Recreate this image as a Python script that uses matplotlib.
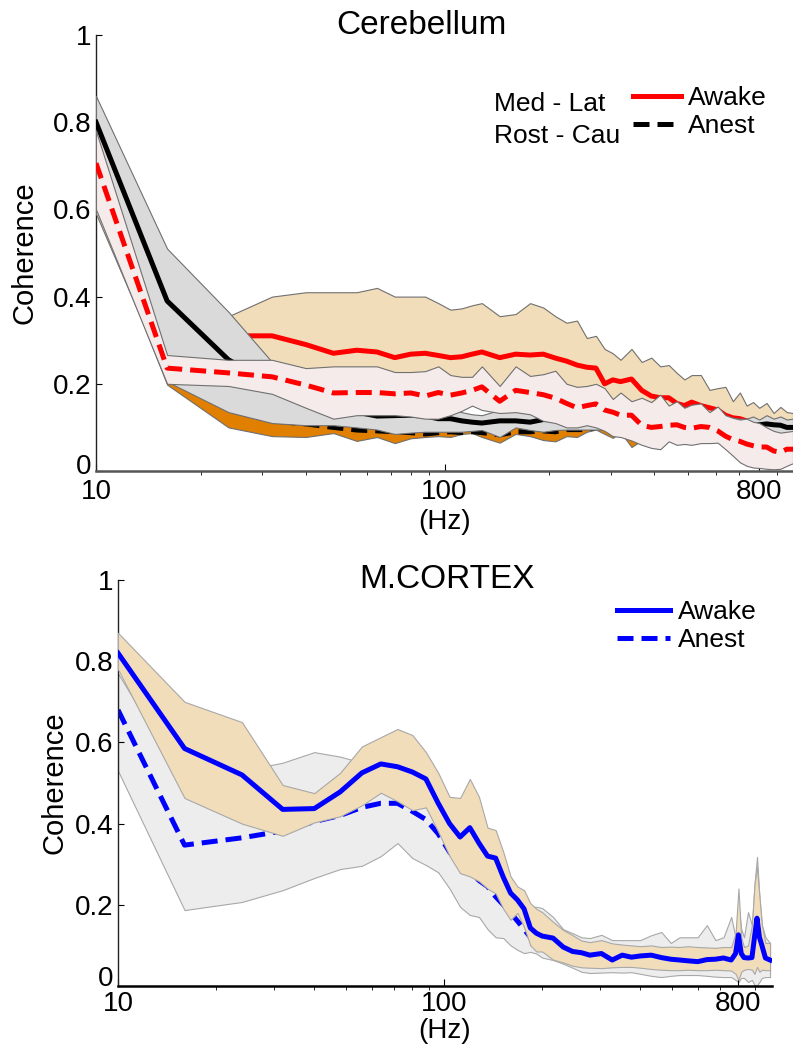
import matplotlib
matplotlib.use("Agg")
import matplotlib.pyplot as plt
from matplotlib.lines import Line2D
from matplotlib.ticker import FixedLocator, NullFormatter
from matplotlib.transforms import ScaledTranslation

plt.rcParams["font.family"] = ["Liberation Sans", "DejaVu Sans"]

# ---- Cerebellum (Med-Lat = red, Rost-Cau = black; solid awake, dashed anest)
cb_freq = [10, 16, 24, 32, 40, 48, 56, 64, 72, 80,
           88, 96, 104, 112, 120, 128, 144, 160, 176, 192,
           208, 224, 240, 256, 272, 288, 304, 320, 344, 368,
           392, 416, 440, 464, 488, 512, 544, 576, 608, 640,
           672, 704, 736, 768, 800, 840, 880, 920, 960, 1000]

ml_awake = [0.70, 0.33, 0.31, 0.31, 0.29, 0.27, 0.277, 0.273, 0.26, 0.268,
            0.27, 0.265, 0.26, 0.262, 0.268, 0.273, 0.26, 0.268, 0.266, 0.268,
            0.259, 0.252, 0.243, 0.238, 0.236, 0.20, 0.209, 0.205, 0.211, 0.185,
            0.172, 0.168, 0.168, 0.155, 0.15, 0.158, 0.15, 0.145, 0.14, 0.128,
            0.122, 0.12, 0.115, 0.11, 0.108, 0.104, 0.10, 0.098, 0.095, 0.094]
ml_awake_hi = [0.80, 0.45, 0.355, 0.40, 0.41, 0.41, 0.41, 0.42, 0.40, 0.40,
               0.40, 0.385, 0.37, 0.373, 0.38, 0.385, 0.355, 0.36, 0.385, 0.375,
               0.355, 0.34, 0.345, 0.305, 0.31, 0.28, 0.27, 0.255, 0.28, 0.25,
               0.26, 0.24, 0.243, 0.225, 0.21, 0.22, 0.22, 0.186, 0.19, 0.193,
               0.16, 0.18, 0.15, 0.158, 0.145, 0.156, 0.133, 0.147, 0.135, 0.133]
ml_awake_lo = [0.59, 0.21, 0.205, 0.20, 0.19, 0.19, 0.19, 0.19, 0.185, 0.185,
               0.185, 0.185, 0.18, 0.18, 0.18, 0.185, 0.185, 0.18, 0.18, 0.175,
               0.17, 0.165, 0.16, 0.155, 0.15, 0.15, 0.145, 0.14, 0.14, 0.13,
               0.125, 0.125, 0.12, 0.115, 0.11, 0.11, 0.105, 0.10, 0.10, 0.095,
               0.09, 0.09, 0.085, 0.085, 0.08, 0.08, 0.078, 0.075, 0.075, 0.075]

ml_anest = [0.706, 0.236, 0.225, 0.216, 0.197, 0.179, 0.18, 0.18, 0.177, 0.179,
            0.172, 0.18, 0.174, 0.179, 0.185, 0.193, 0.16, 0.185, 0.18, 0.175,
            0.167, 0.155, 0.145, 0.15, 0.154, 0.14, 0.135, 0.128, 0.128, 0.105,
            0.10, 0.102, 0.105, 0.106, 0.10, 0.098, 0.102, 0.10, 0.092, 0.08,
            0.072, 0.068, 0.062, 0.058, 0.055, 0.055, 0.046, 0.043, 0.05, 0.05]
ml_anest_hi = [0.78, 0.266, 0.255, 0.255, 0.236, 0.24, 0.24, 0.24, 0.227, 0.227,
               0.229, 0.24, 0.22, 0.216, 0.216, 0.24, 0.195, 0.24, 0.218, 0.222,
               0.23, 0.20, 0.193, 0.195, 0.20, 0.19, 0.165, 0.18, 0.16, 0.168,
               0.158, 0.175, 0.15, 0.16, 0.145, 0.152, 0.155, 0.135, 0.148, 0.128,
               0.122, 0.118, 0.12, 0.113, 0.11, 0.10, 0.092, 0.088, 0.09, 0.092]
ml_anest_lo = [0.60, 0.20, 0.195, 0.177, 0.145, 0.12, 0.128, 0.128, 0.128, 0.125,
               0.12, 0.12, 0.128, 0.138, 0.15, 0.14, 0.133, 0.135, 0.13, 0.115,
               0.11, 0.10, 0.10, 0.105, 0.10, 0.092, 0.08, 0.078, 0.07, 0.06,
               0.053, 0.05, 0.068, 0.06, 0.062, 0.06, 0.064, 0.064, 0.065, 0.05,
               0.035, 0.02, 0.012, 0.008, 0.007, 0.005, 0.004, 0.005, 0.012, 0.018]

rc_awake = [0.80, 0.39, 0.255, 0.20, 0.17, 0.15, 0.135, 0.126, 0.127, 0.128,
            0.126, 0.12, 0.12, 0.115, 0.112, 0.11, 0.115, 0.115, 0.112, 0.118,
            0.118, 0.115, 0.113, 0.11, 0.11, 0.108, 0.108, 0.106, 0.106, 0.105,
            0.105, 0.104, 0.104, 0.103, 0.103, 0.102, 0.102, 0.102, 0.104, 0.103,
            0.104, 0.105, 0.105, 0.104, 0.106, 0.108, 0.106, 0.105, 0.10, 0.10]
rc_awake_hi = [0.86, 0.51, 0.365, 0.25, 0.20, 0.17, 0.16, 0.15, 0.15, 0.145,
               0.145, 0.14, 0.14, 0.135, 0.13, 0.128, 0.14, 0.14, 0.135, 0.14,
               0.14, 0.135, 0.135, 0.13, 0.13, 0.13, 0.13, 0.13, 0.13, 0.13,
               0.13, 0.13, 0.128, 0.128, 0.128, 0.125, 0.125, 0.125, 0.125, 0.122,
               0.122, 0.12, 0.12, 0.125, 0.118, 0.128, 0.12, 0.125, 0.118, 0.12]
rc_awake_lo = [0.62, 0.205, 0.135, 0.11, 0.105, 0.105, 0.10, 0.095, 0.085, 0.088,
               0.09, 0.09, 0.09, 0.09, 0.092, 0.094, 0.078, 0.10, 0.094, 0.09,
               0.094, 0.095, 0.095, 0.095, 0.095, 0.095, 0.095, 0.095, 0.095, 0.095,
               0.095, 0.092, 0.092, 0.09, 0.09, 0.09, 0.088, 0.088, 0.088, 0.085,
               0.085, 0.085, 0.085, 0.08, 0.082, 0.085, 0.08, 0.085, 0.08, 0.085]

rc_anest = [0.68, 0.22, 0.14, 0.115, 0.108, 0.10, 0.094, 0.092, 0.09, 0.088,
            0.085, 0.088, 0.09, 0.088, 0.09, 0.088, 0.083, 0.09, 0.09, 0.092,
            0.09, 0.095, 0.095, 0.095, 0.10, 0.10, 0.10, 0.10, 0.098, 0.10,
            0.10, 0.10, 0.10, 0.10, 0.10, 0.10, 0.10, 0.10, 0.10, 0.10,
            0.10, 0.10, 0.102, 0.098, 0.104, 0.10, 0.102, 0.098, 0.10, 0.098]
rc_anest_hi = [0.75, 0.30, 0.20, 0.15, 0.13, 0.125, 0.12, 0.118, 0.115, 0.115,
               0.112, 0.115, 0.115, 0.112, 0.115, 0.112, 0.11, 0.115, 0.115, 0.118,
               0.115, 0.118, 0.12, 0.118, 0.12, 0.118, 0.12, 0.118, 0.12, 0.118,
               0.12, 0.118, 0.12, 0.118, 0.12, 0.118, 0.12, 0.118, 0.12, 0.118,
               0.12, 0.118, 0.12, 0.118, 0.12, 0.118, 0.12, 0.118, 0.12, 0.118]
rc_anest_lo = [0.61, 0.198, 0.10, 0.08, 0.078, 0.087, 0.069, 0.078, 0.064, 0.075,
               0.078, 0.08, 0.078, 0.085, 0.087, 0.078, 0.065, 0.085, 0.08, 0.071,
               0.068, 0.08, 0.078, 0.09, 0.095, 0.085, 0.076, 0.089, 0.055, 0.07,
               0.055, 0.07, 0.075, 0.075, 0.078, 0.075, 0.078, 0.075, 0.078, 0.075,
               0.078, 0.075, 0.078, 0.075, 0.078, 0.075, 0.078, 0.075, 0.078, 0.075]

# ---- Motor cortex (blue; solid awake, dashed anest)
mc_freq = [10, 16, 24, 32, 40, 48, 56, 64, 72, 80,
           88, 96, 104, 112, 120, 128, 136, 144, 152, 160,
           168, 176, 184, 192, 200, 216, 232, 248, 264, 280,
           304, 328, 352, 376, 400, 432, 464, 496, 528, 560,
           600, 640, 680, 720, 760, 784, 800, 816, 832, 856,
           880, 896, 912, 928, 944, 968, 1000]

mc_awake = [0.82, 0.585, 0.52, 0.435, 0.437, 0.478, 0.525, 0.547, 0.54, 0.527,
            0.51, 0.45, 0.40, 0.367, 0.39, 0.352, 0.32, 0.315, 0.268, 0.229,
            0.212, 0.19, 0.143, 0.13, 0.123, 0.118, 0.096, 0.085, 0.082, 0.076,
            0.08, 0.064, 0.076, 0.071, 0.074, 0.076, 0.07, 0.066, 0.064, 0.062,
            0.06, 0.065, 0.066, 0.069, 0.064, 0.08, 0.126, 0.08, 0.07, 0.069,
            0.07, 0.12, 0.167, 0.12, 0.10, 0.069, 0.064]
mc_awake_hi = [0.87, 0.70, 0.65, 0.495, 0.475, 0.525, 0.59, 0.613, 0.633, 0.618,
               0.576, 0.525, 0.466, 0.463, 0.51, 0.466, 0.39, 0.384, 0.33, 0.27,
               0.245, 0.236, 0.204, 0.19, 0.182, 0.158, 0.138, 0.125, 0.112, 0.108,
               0.113, 0.105, 0.102, 0.10, 0.098, 0.10, 0.096, 0.097, 0.096, 0.098,
               0.096, 0.095, 0.094, 0.096, 0.096, 0.13, 0.24, 0.12, 0.096, 0.10,
               0.15, 0.25, 0.293, 0.219, 0.15, 0.106, 0.106]
mc_awake_lo = [0.78, 0.463, 0.40, 0.37, 0.403, 0.418, 0.445, 0.476, 0.455, 0.433,
               0.44, 0.38, 0.32, 0.278, 0.27, 0.258, 0.24, 0.228, 0.19, 0.163,
               0.18, 0.145, 0.10, 0.085, 0.085, 0.065, 0.058, 0.05, 0.046, 0.045,
               0.044, 0.046, 0.047, 0.047, 0.045, 0.042, 0.04, 0.039, 0.039, 0.04,
               0.039, 0.039, 0.04, 0.039, 0.038, 0.03, 0.015, 0.035, 0.04, 0.042,
               0.04, 0.03, 0.047, 0.035, 0.04, 0.039, 0.039]

mc_anest = [0.68, 0.347, 0.365, 0.382, 0.405, 0.42, 0.44, 0.45, 0.45, 0.43,
            0.41, 0.375, 0.33, 0.30, 0.28, 0.26, 0.245, 0.22, 0.20, 0.18,
            0.16, 0.14, 0.12, 0.11, 0.10, 0.09, 0.085, 0.08, 0.075, 0.072,
            0.07, 0.07, 0.068, 0.07, 0.07, 0.068, 0.07, 0.068, 0.068, 0.07,
            0.068, 0.07, 0.068, 0.07, 0.07, 0.072, 0.085, 0.075, 0.07, 0.07,
            0.072, 0.08, 0.09, 0.08, 0.072, 0.07, 0.068]
mc_anest_hi = [0.77, 0.50, 0.53, 0.55, 0.576, 0.565, 0.55, 0.50, 0.50, 0.48,
               0.46, 0.43, 0.40, 0.36, 0.33, 0.30, 0.28, 0.26, 0.24, 0.22,
               0.20, 0.20, 0.195, 0.195, 0.192, 0.17, 0.14, 0.13, 0.12, 0.118,
               0.126, 0.113, 0.113, 0.113, 0.113, 0.125, 0.133, 0.106, 0.12, 0.12,
               0.12, 0.15, 0.113, 0.12, 0.17, 0.12, 0.20, 0.14, 0.12, 0.182,
               0.15, 0.25, 0.318, 0.219, 0.15, 0.12, 0.106]
mc_anest_lo = [0.53, 0.187, 0.207, 0.236, 0.266, 0.288, 0.296, 0.32, 0.352, 0.315,
               0.298, 0.28, 0.24, 0.195, 0.175, 0.17, 0.14, 0.12, 0.118, 0.10,
               0.089, 0.081, 0.084, 0.08, 0.07, 0.064, 0.055, 0.045, 0.035, 0.032,
               0.033, 0.034, 0.033, 0.034, 0.03, 0.025, 0.022, 0.025, 0.027, 0.027,
               0.027, 0.025, 0.023, 0.022, 0.022, 0.015, 0.01, 0.02, 0.02, 0.01,
               0.015, 0.002, 0.002, 0.01, 0.02, 0.022, 0.022]

x_major = [10, 100, 800]
x_minor = [20, 30, 40, 50, 60, 70, 80, 90, 200, 300, 400, 500, 600, 700, 900]
y_ticks = [0, 0.2, 0.4, 0.6, 0.8, 1]
y_labels = ["0", "0.2", "0.4", "0.6", "0.8", "1"]

TAN, PINK, GREY, ORANGE, LIGHTGREY = "#F2DDBA", "#F5EBEB", "#DADADA", "#E07F00", "#EDEDED"
LW = 3.6
DASH = (0, (3.2, 1.6))


def trace(ax, f, mid, lo, hi, face, edge, color, ls, z):
    # band first, then its mean line; later groups sit on top of earlier ones
    ax.fill_between(f, lo, hi, facecolor=face, edgecolor=edge, linewidth=0.8, zorder=z)
    ax.plot(f, mid, color=color, linestyle=ls, linewidth=LW, zorder=z + 0.5)


def style(ax, xmax, bottom_color, xpad, ylab_x, xlab_y, zero_lift):
    ax.set_xscale("log")
    ax.set_xlim(10, xmax)
    ax.set_ylim(0, 1)
    for s in ("top", "right"):
        ax.spines[s].set_visible(False)
    ax.spines["left"].set_linewidth(1.0)
    ax.spines["left"].set_color("#222222")
    ax.spines["bottom"].set_linewidth(1.8)
    ax.spines["bottom"].set_color(bottom_color)
    ax.xaxis.set_major_locator(FixedLocator(x_major))
    ax.set_xticklabels([str(v) for v in x_major])
    ax.xaxis.set_minor_locator(FixedLocator(x_minor))
    ax.xaxis.set_minor_formatter(NullFormatter())
    ax.set_yticks(y_ticks)
    ax.set_yticklabels(y_labels)
    ax.tick_params(direction="in", labelsize=20, width=0.8)
    ax.tick_params(axis="x", which="major", length=5, pad=xpad)
    ax.tick_params(axis="x", which="minor", length=3)
    ax.tick_params(axis="y", length=4, pad=3.5)
    ax.set_ylabel("Coherence", fontsize=21)
    ax.yaxis.set_label_coords(ylab_x, 0.5)
    ax.set_xlabel("(Hz)", fontsize=20)
    ax.xaxis.set_label_coords(0.5, xlab_y)
    # lift the "0" label a little so it clears the "10" below it
    zero = ax.get_yticklabels()[0]
    zero.set_transform(zero.get_transform() + ScaledTranslation(0, zero_lift / 72, fig.dpi_scale_trans))


W, H = 793, 1044
fig = plt.figure(figsize=(W / 100, H / 100), dpi=100)

# top panel: cerebellum
ax1 = fig.add_axes([96 / W, 1 - 471 / H, (W - 96) / W, 436 / H])
trace(ax1, cb_freq, rc_anest, rc_anest_lo, rc_anest_hi, ORANGE, "#707070", "black", DASH, 1)
trace(ax1, cb_freq, ml_awake, ml_awake_lo, ml_awake_hi, TAN, "#707070", "red", "-", 3)
trace(ax1, cb_freq, rc_awake, rc_awake_lo, rc_awake_hi, GREY, "#707070", "black", "-", 5)
trace(ax1, cb_freq, ml_anest, ml_anest_lo, ml_anest_hi, PINK, "#707070", "red", DASH, 7)
style(ax1, 1000, "#555555", 6, -0.083, -0.088, 5)
fig.text(421 / W, 1 - 25 / H, "Cerebellum", fontsize=24, ha="center", va="center")

handles = [Line2D([], [], color="red", lw=LW),
           Line2D([], [], color="black", lw=LW, linestyle=DASH)]
fig.legend(handles, ["Awake", "Anest"], loc="upper left",
           bbox_to_anchor=(633 / W, 1 - 86 / H), frameon=False, fontsize=19,
           handlelength=1.8, handletextpad=0.3, labelspacing=0.15,
           borderpad=0, borderaxespad=0)
fig.text(494 / W, 1 - 104 / H, "Med - Lat", fontsize=19, ha="left", va="center")
fig.text(494 / W, 1 - 136 / H, "Rost - Cau", fontsize=19, ha="left", va="center")

# bottom panel: motor cortex
ax2 = fig.add_axes([118 / W, 1 - 986 / H, 654 / W, 406 / H])
trace(ax2, mc_freq, mc_anest, mc_anest_lo, mc_anest_hi, LIGHTGREY, "#A8A8A8", "blue", DASH, 1)
trace(ax2, mc_freq, mc_awake, mc_awake_lo, mc_awake_hi, TAN, "#A8A8A8", "blue", "-", 3)
style(ax2, 1014, "black", 3.5, -0.076, -0.078, 7)
fig.text(447 / W, 1 - 580 / H, "M.CORTEX", fontsize=24, ha="center", va="center")

handles = [Line2D([], [], color="blue", lw=LW),
           Line2D([], [], color="blue", lw=LW, linestyle=DASH)]
fig.legend(handles, ["Awake", "Anest"], loc="upper left",
           bbox_to_anchor=(617 / W, 1 - 600 / H), frameon=False, fontsize=19,
           handlelength=2.0, handletextpad=0.3, labelspacing=0.15,
           borderpad=0, borderaxespad=0)

fig.savefig("out.png", dpi=100)
plt.close(fig)
